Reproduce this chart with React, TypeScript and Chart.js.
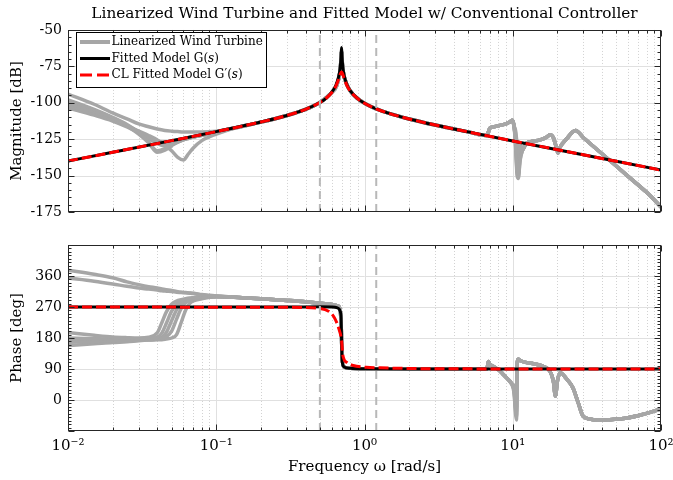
import React, { useEffect, useRef } from "react";
import { Chart, registerables } from "chart.js";
Chart.register(...registerables);

const SERIF = "'DejaVu Serif', 'Liberation Serif', serif";

// ---------- text ----------
const chartTitle = "Linearized Wind Turbine and Fitted Model w/ Conventional Controller";
const legendLabels = ["Linearized Wind Turbine", "Fitted Model G(s)", "CL Fitted Model G\u2032(s)"];
const magAxisLabel = "Magnitude [dB]";
const phaseAxisLabel = "Phase [deg]";
const freqAxisLabel = "Frequency \u03c9 [rad/s]";

// ---------- axes ----------
const freqRange = [0.01, 100];
const freqDecades = [0.01, 0.1, 1, 10, 100];
const freqTickLabels = ["10\u207b\u00b2", "10\u207b\u00b9", "10\u2070", "10\u00b9", "10\u00b2"];
const magRange = [-175, -50];
const magTicks = [-175, -150, -125, -100, -75, -50];
const magMinorStep = 5;
const phaseRange = [-90, 450];
const phaseTicks = [0, 90, 180, 270, 360];
const phaseGridLines = [0, 90, 180, 270, 360];
const phaseMinorStep = 10;
const refFreqs = [0.5, 1.2];

// ---------- fitted model G(s) ----------
const fitMagFreq = [0.01, 0.02, 0.05, 0.1, 0.2, 0.3, 0.4, 0.5, 0.55, 0.6, 0.64, 0.67, 0.685, 0.69, 0.695, 0.7, 0.705, 0.71, 0.715, 0.73, 0.76, 0.8, 0.9, 1, 1.2, 1.5, 2, 3, 5, 10, 20, 50, 100];
const fitMag = [-140, -134, -126, -119.8, -113.2, -108.7, -104.5, -99.8, -96.9, -92.9, -88.2, -81.9, -76, -72.7, -67.6, -62, -67.6, -72.6, -76, -81.6, -87.4, -91.7, -97.2, -100.3, -104.2, -107.6, -111.1, -115.3, -120, -126.2, -132.2, -140.2, -146.2];
const fitPhaseFreq = [0.01, 0.3, 0.5, 0.6, 0.65, 0.675, 0.685, 0.69, 0.695, 0.7, 0.705, 0.71, 0.715, 0.72, 0.73, 0.75, 0.8, 1, 2, 100];
const fitPhase = [270, 270, 270.5, 270, 268, 264, 258, 253, 238, 180, 122, 107, 101, 98, 96, 93.5, 92, 90.5, 90, 90];

// ---------- closed-loop fitted model G'(s) ----------
const clMagFreq = [0.01, 0.02, 0.05, 0.1, 0.2, 0.3, 0.4, 0.5, 0.55, 0.6, 0.64, 0.67, 0.69, 0.7, 0.71, 0.73, 0.76, 0.8, 0.9, 1, 1.2, 1.5, 2, 3, 5, 10, 20, 50, 100];
const clMag = [-140, -134, -126, -119.8, -113.2, -108.7, -104.5, -99.8, -96.9, -93.1, -88.7, -83.7, -79.8, -78.9, -79.8, -83.5, -88, -91.9, -97.2, -100.3, -104.2, -107.6, -111.1, -115.3, -120, -126.2, -132.2, -140.2, -146.2];
const clPhaseFreq = [0.01, 0.3, 0.5, 0.585, 0.63, 0.67, 0.7, 0.715, 0.76, 0.84, 1.03, 1.27, 2, 4, 100];
const clPhase = [270, 269, 266, 255, 237, 208, 173, 129, 109, 100, 95, 93.5, 91.5, 90.5, 90];

// ---------- linearized wind turbine (7 operating points) ----------
const grayLowMagFreq = [0.01, 0.015, 0.02, 0.025, 0.03, 0.035, 0.04, 0.045, 0.05, 0.055, 0.06, 0.065, 0.07, 0.08, 0.1, 0.12, 0.15];
const grayLowMag = [
  [-94, -101, -107, -111, -114.5, -116.5, -118, -119, -119.5, -119.8, -120, -120, -120, -120, -119.5, -118.3, -116.2],
  [-98, -104.5, -110, -115, -120.5, -127, -133, -131.5, -128.5, -126.5, -125, -124, -123.3, -122.2, -120, -118.2, -116.1],
  [-100.5, -106, -111, -116, -121.5, -127.5, -134, -132.5, -129.5, -127, -125.5, -124.3, -123.5, -122.3, -120, -118.2, -116.1],
  [-102, -107.5, -112, -116, -119.5, -122.5, -125.5, -129, -133, -137.5, -139.3, -135, -131, -126, -121.5, -118.7, -116.3],
  [-103.5, -108.5, -112.5, -116.5, -120.5, -124, -126.5, -127, -126.5, -125.5, -124.8, -124, -123.3, -122.2, -120, -118.2, -116.1],
  [-99, -105, -110.5, -115.5, -120, -124.5, -128, -129.5, -128.5, -127, -125.5, -124.5, -123.6, -122.3, -120.2, -118.3, -116.1],
  [-101, -106.5, -111.5, -116, -120, -123.5, -126, -127.5, -127.5, -126.5, -125.3, -124.3, -123.5, -122.3, -120.1, -118.2, -116.1],
];
const grayMidMagFreq = [0.2, 0.3, 0.4, 0.5, 0.6, 0.65, 0.68, 0.69, 0.7, 0.71, 0.72, 0.75, 0.8, 0.9, 1, 1.2, 1.5, 2, 3];
const grayMidMag = [-113.3, -108.7, -104.5, -99.8, -93, -88, -80, -74, -65, -74, -79, -86, -91.7, -97.2, -100.3, -104.2, -107.6, -111.1, -115.3];
const grayHiMagFreqA = [5, 6.6, 6.8, 7.0, 7.5, 8.2, 9.0, 9.6, 9.95, 10.2];
const grayHiMagA = [-120, -122.5, -121, -117.5, -116.5, -115.5, -114.5, -113, -112, -116];
const grayResMagFreq = [10.45, 10.7, 10.9, 11.2];
const grayResMag = [
  [-130, -150, -152, -140],
  [-127, -146, -149, -137],
  [-124, -140, -143, -134],
  [-121, -134, -137, -131],
  [-119, -128, -131, -129],
  [-128, -148, -151, -139],
  [-125, -143, -146, -135],
];
const grayHiMagFreqB = [11.7, 12.3, 13.5, 15.3, 17, 17.8, 18.8, 19.6, 20.2, 21, 23, 26.5, 30, 40, 60, 80, 100];
const grayHiMagB = [-132, -128, -126.5, -125.5, -123.5, -122, -124, -130, -134.5, -130, -125, -119, -124, -135, -150.5, -161.5, -171.5];

const grayLowPhFreq = [0.01, 0.015, 0.02, 0.025, 0.03, 0.035, 0.04, 0.043, 0.046, 0.05, 0.054, 0.058, 0.062, 0.066, 0.07, 0.08, 0.09, 0.1];
const grayLowPh = [
  [377, 365, 355, 343, 335, 329, 325, 322, 320, 318, 315, 313, 312, 311, 310, 306, 304, 302],
  [354, 345, 337, 330, 325, 322, 319, 317, 316, 315, 313, 312, 311, 310, 309, 305, 303, 301],
  [196, 188, 183, 181, 180, 182, 195, 225, 255, 278, 287, 291, 294, 296, 297, 299, 300, 301],
  [180, 178, 177, 177, 177, 178, 182, 195, 222, 258, 278, 287, 291, 294, 296, 298, 300, 301],
  [168, 170, 172, 173, 175, 176, 178, 182, 196, 230, 262, 280, 288, 292, 294, 297, 299, 300],
  [158, 163, 167, 169, 172, 174, 176, 178, 183, 200, 235, 266, 282, 289, 292, 296, 298, 300],
  [172, 173, 173, 173, 174, 174, 175, 175, 177, 180, 190, 225, 260, 280, 288, 294, 298, 300],
];
const grayMidPhFreq = [0.15, 0.2, 0.3, 0.4, 0.5, 0.6, 0.65, 0.675, 0.685, 0.69, 0.695, 0.7, 0.705, 0.71, 0.72, 0.75, 0.8, 1, 2, 4];
const grayMidPh = [297, 294, 289, 285, 281, 277, 274, 270, 262, 250, 225, 180, 135, 112, 100, 94, 92, 91, 90, 90];
const grayHiPhFreqA = [5, 6.6, 6.75, 6.85, 7.0, 7.5, 8, 8.6, 9.2, 9.8];
const grayHiPhA = [90, 90, 96, 112, 104, 96, 88, 75, 62, 48];
const grayResPhFreq = [10.2, 10.45, 10.6];
const grayResPh = [
  [20, -40, -58],
  [28, -20, -45],
  [35, 0, -25],
  [40, 20, 0],
  [42, 35, 25],
  [25, -30, -50],
  [32, -10, -35],
];
const grayHiPhFreqB = [10.7, 10.9, 11.3, 12, 14, 16, 17.8, 18.8, 19.4, 20, 20.9, 23, 25.4, 27.5, 29.7, 33, 37, 45, 59, 75, 100];
const grayHiPhB = [100, 118, 114, 110, 105, 98, 84, 55, 12, 55, 79, 62, 36, -5, -46, -55, -58, -57, -52, -42, -26];

// ---------- styles ----------
const GRAY = "#a6a6a6";
const RED = "#ff0000";
const BLACK = "#000000";
const REFLINE = "#b8b8b8";

const pts = (xs: number[], ys: number[]) => xs.map((x, i) => ({ x, y: ys[i] }));

function lineDs(data: any[], color: string, width: number, order: number, dash: number[] = []) {
  return {
    type: "line",
    data,
    borderColor: color,
    backgroundColor: color,
    borderWidth: width,
    borderDash: dash,
    borderCapStyle: "butt",
    borderJoinStyle: "round",
    pointRadius: 0,
    pointHoverRadius: 0,
    fill: false,
    cubicInterpolationMode: "monotone",
    order,
  };
}

function refDatasets(range: number[]) {
  return refFreqs.map((f) => ({
    ...lineDs([{ x: f, y: range[0] }, { x: f, y: range[1] }], REFLINE, 2, -1, [8, 5]),
    cubicInterpolationMode: "default",
    tension: 0,
  }));
}

function framePlugin(yGrid: number[], yMajor: number[], yMinorStep: number, yRange: number[]) {
  return {
    id: "frame",
    beforeDatasetsDraw(chart: any) {
      const { ctx, chartArea: a, scales } = chart;
      const xs = scales.x, ys = scales.y;
      ctx.save();
      ctx.lineWidth = 1;
      ctx.strokeStyle = "#d2d2d2";
      ctx.setLineDash([1, 2]);
      for (let i = 0; i < freqDecades.length - 1; i++) {
        for (let k = 2; k <= 9; k++) {
          const px = Math.round(xs.getPixelForValue(freqDecades[i] * k)) + 0.5;
          ctx.beginPath(); ctx.moveTo(px, a.top); ctx.lineTo(px, a.bottom); ctx.stroke();
        }
      }
      ctx.setLineDash([]);
      ctx.strokeStyle = "#e0e0e0";
      for (const d of freqDecades) {
        const px = Math.round(xs.getPixelForValue(d)) + 0.5;
        if (px <= a.left + 1 || px >= a.right - 1) continue;
        ctx.beginPath(); ctx.moveTo(px, a.top); ctx.lineTo(px, a.bottom); ctx.stroke();
      }
      for (const v of yGrid) {
        const py = Math.round(ys.getPixelForValue(v)) + 0.5;
        if (py <= a.top + 1 || py >= a.bottom - 1) continue;
        ctx.beginPath(); ctx.moveTo(a.left, py); ctx.lineTo(a.right, py); ctx.stroke();
      }
      ctx.restore();
    },
    afterDatasetsDraw(chart: any) {
      const { ctx, chartArea: a, scales } = chart;
      const xs = scales.x, ys = scales.y;
      ctx.save();
      ctx.strokeStyle = "#262626";
      ctx.lineWidth = 1;
      const L = Math.round(a.left) + 0.5, R = Math.round(a.right) - 0.5;
      const T = Math.round(a.top) + 0.5, B = Math.round(a.bottom) - 0.5;
      ctx.beginPath();
      for (let i = 0; i < freqDecades.length; i++) {
        const px = Math.round(xs.getPixelForValue(freqDecades[i])) + 0.5;
        ctx.moveTo(px, B); ctx.lineTo(px, B - 6);
        ctx.moveTo(px, T); ctx.lineTo(px, T + 6);
        if (i < freqDecades.length - 1) {
          for (let k = 2; k <= 9; k++) {
            const qx = Math.round(xs.getPixelForValue(freqDecades[i] * k)) + 0.5;
            ctx.moveTo(qx, B); ctx.lineTo(qx, B - 3);
            ctx.moveTo(qx, T); ctx.lineTo(qx, T + 3);
          }
        }
      }
      for (let v = yRange[0]; v <= yRange[1]; v += yMinorStep) {
        const py = Math.round(ys.getPixelForValue(v)) + 0.5;
        const len = yMajor.includes(v) ? 6 : 3;
        ctx.moveTo(L, py); ctx.lineTo(L + len, py);
        ctx.moveTo(R, py); ctx.lineTo(R - len, py);
      }
      ctx.stroke();
      ctx.strokeRect(L, T, R - L, B - T);
      ctx.restore();
    },
  };
}

const legendPlugin = {
  id: "bodeLegend",
  afterDraw(chart: any) {
    const { ctx, chartArea: a } = chart;
    const bx = Math.round(a.left) + 8.5, by = Math.round(a.top) + 2.5, bw = 190, bh = 55;
    ctx.save();
    ctx.fillStyle = "#fff";
    ctx.fillRect(bx, by, bw, bh);
    ctx.strokeStyle = "#000";
    ctx.lineWidth = 1;
    ctx.strokeRect(bx, by, bw, bh);
    const styles = [
      { color: GRAY, width: 4, dash: [] as number[] },
      { color: BLACK, width: 3, dash: [] as number[] },
      { color: RED, width: 3, dash: [12, 5] },
    ];
    const rowY = [by + 9.5, by + 26, by + 42.5];
    legendLabels.forEach((label, i) => {
      const y = rowY[i];
      ctx.beginPath();
      ctx.strokeStyle = styles[i].color;
      ctx.lineWidth = styles[i].width;
      ctx.setLineDash(styles[i].dash);
      ctx.lineCap = "butt";
      ctx.moveTo(bx + 3.5, y);
      ctx.lineTo(bx + 33.5, y);
      ctx.stroke();
      ctx.setLineDash([]);
      ctx.fillStyle = "#000";
      ctx.textBaseline = "middle";
      ctx.textAlign = "left";
      let x = bx + 35;
      const idx = label.indexOf("(s)");
      const segs: [string, boolean][] = idx >= 0
        ? [[label.slice(0, idx + 1), false], ["s", true], [label.slice(idx + 2), false]]
        : [[label, false]];
      for (const [t, it] of segs) {
        ctx.font = `${it ? "italic " : ""}12px ${SERIF}`;
        ctx.fillText(t, x, y);
        x += ctx.measureText(t).width;
      }
    });
    ctx.restore();
  },
};

const tickFont = { family: SERIF, size: 14 };
const axisTitleFont = { family: SERIF, size: 15 };

function yScale(range: number[], ticks: number[], title: string) {
  return {
    type: "linear",
    position: "left",
    min: range[0],
    max: range[1],
    grid: { display: false, drawTicks: false },
    border: { display: false },
    afterBuildTicks: (s: any) => { s.ticks = ticks.map((v) => ({ value: v })); },
    afterFit: (s: any) => { s.width = 68; s.paddingTop = 0; s.paddingBottom = 0; },
    ticks: { font: tickFont, color: "#000", padding: 6, callback: (v: any) => String(v) },
    title: { display: true, text: title, font: axisTitleFont, color: "#000", padding: { top: 8, bottom: 0 } },
  };
}

export default function App() {
  const topRef = useRef<HTMLCanvasElement>(null);
  const botRef = useRef<HTMLCanvasElement>(null);

  useEffect(() => {
    const grayMagSets = grayLowMag.map((low, i) =>
      lineDs(
        pts(
          [...grayLowMagFreq, ...grayMidMagFreq, ...grayHiMagFreqA, ...grayResMagFreq, ...grayHiMagFreqB],
          [...low, ...grayMidMag, ...grayHiMagA, ...grayResMag[i], ...grayHiMagB]
        ),
        GRAY, 3.5, 2
      )
    );
    const grayPhSets = grayLowPh.map((low, i) =>
      lineDs(
        pts(
          [...grayLowPhFreq, ...grayMidPhFreq, ...grayHiPhFreqA, ...grayResPhFreq, ...grayHiPhFreqB],
          [...low, ...grayMidPh, ...grayHiPhA, ...grayResPh[i], ...grayHiPhB]
        ),
        GRAY, 3.5, 2
      )
    );

    const c1 = new Chart(topRef.current as HTMLCanvasElement, {
      type: "line",
      data: {
        datasets: [
          ...grayMagSets,
          lineDs(pts(fitMagFreq, fitMag), BLACK, 3, 1),
          lineDs(pts(clMagFreq, clMag), RED, 3, 0, [10, 4]),
          ...refDatasets(magRange),
        ] as any,
      },
      options: {
        responsive: false,
        animation: false,
        events: [],
        layout: { padding: { left: 0, right: 12, top: 0, bottom: 14 } },
        scales: {
          x: { type: "logarithmic", min: freqRange[0], max: freqRange[1], display: false },
          y: yScale(magRange, magTicks, magAxisLabel) as any,
        },
        plugins: {
          legend: { display: false },
          tooltip: { enabled: false },
          title: {
            display: true,
            fullSize: false,
            text: chartTitle,
            color: "#000",
            font: { family: SERIF, size: 15.3, weight: "normal" },
            padding: { top: 5, bottom: 6.6 },
          },
        },
      },
      plugins: [framePlugin(magTicks, magTicks, magMinorStep, magRange), legendPlugin],
    } as any);

    const c2 = new Chart(botRef.current as HTMLCanvasElement, {
      type: "line",
      data: {
        datasets: [
          ...grayPhSets,
          lineDs(pts(fitPhaseFreq, fitPhase), BLACK, 3, 1),
          lineDs(pts(clPhaseFreq, clPhase), RED, 3, 0, [10, 4]),
          ...refDatasets(phaseRange),
        ] as any,
      },
      options: {
        responsive: false,
        animation: false,
        events: [],
        layout: { padding: { left: 0, right: 12, top: 19, bottom: 0 } },
        scales: {
          x: {
            type: "logarithmic",
            min: freqRange[0],
            max: freqRange[1],
            grid: { display: false, drawTicks: false },
            border: { display: false },
            afterBuildTicks: (s: any) => { s.ticks = freqDecades.map((v) => ({ value: v })); },
            afterFit: (s: any) => { s.height = 49; s.paddingLeft = 0; s.paddingRight = 0; },
            ticks: {
              font: { family: SERIF, size: 15 },
              color: "#000",
              padding: 6,
              maxRotation: 0,
              autoSkip: false,
              callback: (v: any) => freqTickLabels[Math.round(Math.log10(Number(v))) + 2],
            },
            title: { display: true, text: freqAxisLabel, font: axisTitleFont, color: "#000", padding: { top: 0, bottom: 4 } },
          },
          y: yScale(phaseRange, phaseTicks, phaseAxisLabel) as any,
        },
        plugins: { legend: { display: false }, tooltip: { enabled: false } },
      },
      plugins: [framePlugin(phaseGridLines, phaseTicks.concat(phaseRange), phaseMinorStep, phaseRange)],
    } as any);

    return () => { c1.destroy(); c2.destroy(); };
  }, []);

  return (
    <div style={{ position: "fixed", left: 0, top: 0, width: 673, height: 480, background: "#fff" }}>
      <canvas ref={topRef} width={673} height={226} style={{ position: "absolute", left: 0, top: 0 }} />
      <canvas ref={botRef} width={673} height={254} style={{ position: "absolute", left: 0, top: 226 }} />
    </div>
  );
}
